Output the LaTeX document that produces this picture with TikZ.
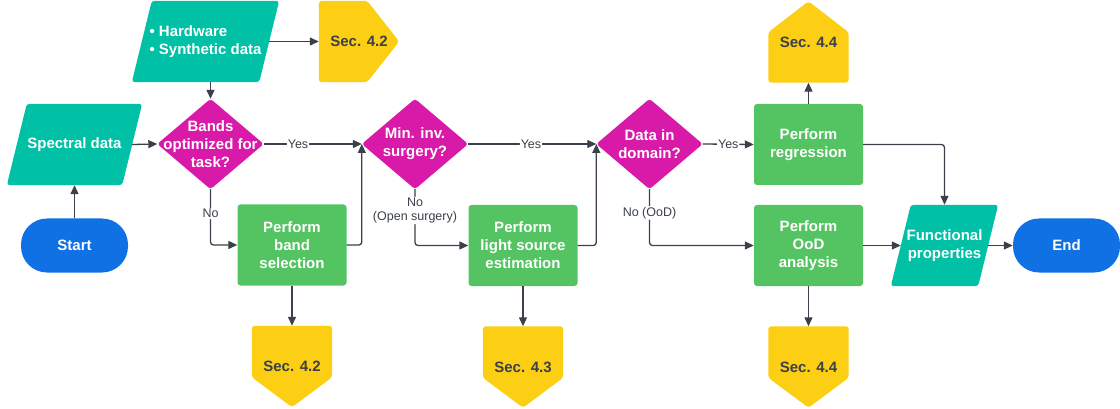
\documentclass[tikz,border=0pt]{standalone}
\usepackage{fontspec}
\setmainfont{Liberation Sans}
\usetikzlibrary{arrows.meta,calc}
\pgfdeclarelayer{bg}
\pgfsetlayers{bg,main}
\definecolor{cteal}{RGB}{0,192,165}
\definecolor{cmag}{RGB}{217,25,168}
\definecolor{cgreen}{RGB}{84,196,98}
\definecolor{cyellow}{RGB}{252,206,20}
\definecolor{cblue}{RGB}{16,113,229}
\definecolor{cdark}{RGB}{58,65,74}
\tikzset{
  base/.style={inner sep=0pt, font=\fontsize{15}{18}\selectfont\bfseries, text=white, align=center},
  parabox/.style={base, minimum height=81pt, minimum width=#1},
  decbox/.style={base, minimum width=106pt, minimum height=90pt},
  procbox/.style={base, fill=cgreen, rounded corners=3pt, minimum width=109pt, minimum height=81pt},
  secbox/.style={base, text=cdark, minimum width=80pt, minimum height=81pt},
  pill/.style={base, fill=cblue, rounded corners=26pt, minimum width=107pt, minimum height=54pt},
  conn/.style={draw=cdark, line width=1.3pt, rounded corners=3pt, -{Triangle[length=9pt,width=8pt]}},
  lbl/.style={fill=white, inner sep=1pt, text=cdark, font=\fontsize{12.5}{14}\selectfont, align=center},
}
\newcommand\parafill[1]{\fill[cteal, rounded corners=3pt] ([xshift=-10pt]#1.south west) -- ([xshift=-10pt]#1.south east) -- ([xshift=10pt]#1.north east) -- ([xshift=10pt]#1.north west) -- cycle;}
\newcommand\diafill[1]{\fill[cmag, rounded corners=3pt] (#1.north) -- (#1.east) -- (#1.south) -- (#1.west) -- cycle;}
\begin{document}
\begin{tikzpicture}[x=1pt,y=-1pt]
\useasboundingbox (0,0) rectangle (1120,409);
% nodes
\node[parabox=127pt] (hw) at (205.5,41.5) {\begin{tabular}{@{}l@{}}• Hardware\\• Synthetic data\end{tabular}};
\node[secbox] (s42a) at (359,41.5) {Sec. 4.2};
\node[parabox=115pt] (sd) at (74.5,144.5) {Spectral data};
\node[pill] (start) at (74.5,245.5) {Start};
\node[decbox] (d1) at (210.5,144) {Bands\\optimized for\\task?};
\node[procbox] (bs) at (292,245) {Perform\\band\\selection};
\node[secbox] (s42b) at (292,366.5) {Sec. 4.2};
\node[decbox] (d2) at (415,144) {Min. inv.\\surgery?};
\node[procbox] (ls) at (523,245.5) {Perform\\light source\\estimation};
\node[secbox] (s43) at (523,367) {Sec. 4.3};
\node[decbox] (d3) at (649.5,144) {Data in\\domain?};
\node[procbox] (reg) at (808.5,144.5) {Perform\\regression};
\node[secbox] (s44a) at (808.5,42) {Sec. 4.4};
\node[procbox] (ood) at (808.5,245.5) {Perform\\OoD\\analysis};
\node[secbox] (s44b) at (808.5,367) {Sec. 4.4};
\node[parabox=87pt] (fp) at (944.5,245.5) {Functional\\properties};
\node[pill] (end) at (1066.5,245.5) {End};
% background shapes
\begin{pgfonlayer}{bg}
\parafill{hw}
\parafill{sd}
\parafill{fp}
\diafill{d1}
\diafill{d2}
\diafill{d3}
\fill[cyellow, rounded corners=3pt] (s42a.north west) -- ([xshift=-32pt]s42a.north east) -- (s42a.east) -- ([xshift=-32pt]s42a.south east) -- (s42a.south west) -- cycle;
\fill[cyellow, rounded corners=3pt] (s44a.south west) -- ([yshift=-31pt]s44a.north west) -- (s44a.north) -- ([yshift=-31pt]s44a.north east) -- (s44a.south east) -- cycle;
\foreach \n in {s42b,s43,s44b}{
  \fill[cyellow, rounded corners=3pt] (\n.north west) -- ([yshift=30pt]\n.south west) -- (\n.south) -- ([yshift=30pt]\n.south east) -- (\n.north east) -- cycle;
}
\end{pgfonlayer}
% connectors
\draw[conn] (start.north) -- (sd.south);
\draw[conn] (sd.east) -- (d1.west);
\draw[conn] (d1.north |- hw.south) -- (d1.north);
\draw[conn] (hw.east) -- (s42a.west);
\draw[conn] (d1.east) -- node[lbl, pos=0.35] (y1) {Yes} (d2.west);
\draw[conn] (d1.south) |- node[lbl, pos=0.22] (n1) {No} (bs.west);
\draw[conn] (bs.east) -| (d2.west);
\draw[conn] (bs.south) -- (s42b.north);
\draw[conn] (d2.east) -- node[lbl, pos=0.49] (y2) {Yes} (d3.west);
\draw[conn] (d2.south) |- node[lbl, pos=0.19] (n2) {No\\(Open surgery)} (ls.west);
\draw[conn] (ls.east) -| (d3.west);
\draw[conn] (ls.south) -- (s43.north);
\draw[conn] (d3.east) -- node[lbl, pos=0.5] (y3) {Yes} (reg.west);
\draw[conn] (d3.south) |- node[lbl, pos=0.21] (n3) {No (OoD)} (ood.west);
\draw[conn] (reg.north) -- (s44a.south);
\draw[conn] (reg.east) -| (fp.north);
\draw[conn] (ood.east) -- (fp.west);
\draw[conn] (ood.south) -- (s44b.north);
\draw[conn] (fp.east) -- (end.west);
\end{tikzpicture}
\end{document}
